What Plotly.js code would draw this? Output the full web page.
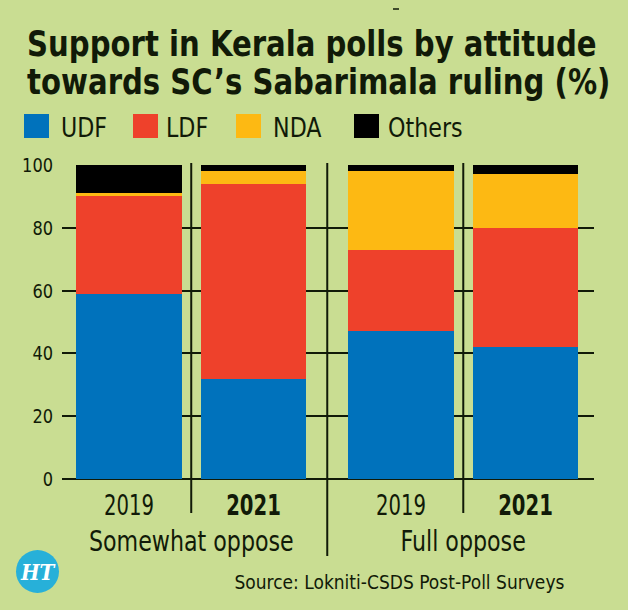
<!DOCTYPE html>
<html>
<head>
<meta charset="utf-8">
<script src="https://cdn.plot.ly/plotly-3.0.1.min.js"></script>
<style>
  html, body { margin: 0; padding: 0; background: #c9dd92; }
  #chart { width: 628px; height: 610px; }
</style>
</head>
<body>
<div id="chart"></div>
<script>
// Vote share (%) among respondents, by attitude towards the Sabarimala ruling
const groups = ['Somewhat oppose', 'Full oppose'];
const years = ['2019', '2021'];
const parties = ['UDF', 'LDF', 'NDA', 'Others'];
const udf    = [59, 32, 47, 42];
const ldf    = [31, 62, 26, 38];
const nda    = [1, 4, 25, 17];
const others = [9, 2, 2, 3];
const yTicks = [0, 20, 40, 60, 80, 100];

const partyColors = ['#0072bc', '#ee412b', '#fdb913', '#000000'];
const seriesList = [udf, ldf, nda, others];

const BG = '#c9dd92';
const INK = '#111a08';
const FONT = '"DejaVu Sans Condensed", "Liberation Sans Narrow", sans-serif';

// x position of each bar: years side by side, a wider gap between groups
const GROUP_STEP = 2.185;
const xPos = [];
const xText = [];
groups.forEach((g, gi) => {
  years.forEach((yr, yi) => {
    xPos.push(gi * GROUP_STEP + yi);
    xText.push(yi === 1 ? '<b>' + yr + '</b>' : yr);
  });
});

const traces = seriesList.map((vals, i) => ({
  type: 'bar',
  name: parties[i],
  x: xPos,
  y: vals,
  width: 0.85,
  marker: { color: partyColors[i], line: { width: 0 } },
  hoverinfo: 'name+y',
  showlegend: false
}));

// plot area: 62..594 px wide, 165..479 px tall
const M = { l: 62, r: 34, t: 165, b: 131 };
const plotW = 628 - M.l - M.r;
const plotH = 610 - M.t - M.b;
const py = (px) => (610 - M.b - px) / plotH;   // pixel row -> paper y
const pxX = (px) => (px - M.l) / plotW;         // pixel col -> paper x

const shapes = [];
const annotations = [];
// horizontal squeeze applied to each annotation's text: [factor, pivot]
const annSqueeze = [];
function addAnn(a, squeeze, pivot) {
  annotations.push(a);
  annSqueeze.push([squeeze, pivot]);
}

// vertical separators between years and between groups
const sepYear = [0.5, GROUP_STEP + 0.5];
sepYear.forEach(x => shapes.push({
  type: 'line', xref: 'x', yref: 'paper', x0: x, x1: x,
  y0: py(163), y1: py(513), line: { color: INK, width: 2 }, layer: 'above'
}));
const sepGroup = (1 + GROUP_STEP) / 2;
shapes.push({
  type: 'line', xref: 'x', yref: 'paper', x0: sepGroup, x1: sepGroup,
  y0: py(163), y1: py(556), line: { color: INK, width: 2 }, layer: 'above'
});

// group labels under the year labels
groups.forEach((g, gi) => {
  addAnn({
    text: g, xref: 'x', yref: 'paper',
    x: gi * GROUP_STEP + 0.5, y: py(541),
    xanchor: 'center', yanchor: 'middle', showarrow: false,
    font: { family: FONT, size: 28, color: INK }
  }, 0.88, 'center');
});

// title, two lines
const titleLines = ['Support in Kerala polls by attitude', 'towards SC’s Sabarimala ruling (%)'];
const titleY = [44, 82];
titleLines.forEach((t, i) => addAnn({
  text: '<b>' + t + '</b>', xref: 'paper', yref: 'paper',
  x: pxX(25), y: py(titleY[i]), xanchor: 'left', yanchor: 'middle',
  showarrow: false, font: { family: FONT, size: 36, color: INK }
}, 0.9, 'left'));

// legend: swatches and labels
const legendSwatchX = [24, 133, 236, 354];
const legendTextX = [59, 164, 271, 386];
parties.forEach((p, i) => {
  shapes.push({
    type: 'rect', xref: 'paper', yref: 'paper',
    x0: pxX(legendSwatchX[i]), x1: pxX(legendSwatchX[i] + 25),
    y0: py(114), y1: py(138), fillcolor: partyColors[i], line: { width: 0 }
  });
  addAnn({
    text: p, xref: 'paper', yref: 'paper',
    x: pxX(legendTextX[i]), y: py(128), xanchor: 'left', yanchor: 'middle',
    showarrow: false, font: { family: FONT, size: 26, color: INK }
  }, 0.95, 'left');
});

// source line
addAnn({
  text: 'Source: Lokniti-CSDS Post-Poll Surveys', xref: 'paper', yref: 'paper',
  x: pxX(566), y: py(582), xanchor: 'right', yanchor: 'middle',
  showarrow: false, font: { family: FONT, size: 20, color: INK }
}, 0.95, 'right');

// publisher badge
shapes.push({
  type: 'circle', xref: 'paper', yref: 'paper',
  x0: pxX(16), x1: pxX(59), y0: py(550), y1: py(593),
  fillcolor: '#27b0d9', line: { width: 0 }
});
addAnn({
  text: '<b><i>HT</i></b>', xref: 'paper', yref: 'paper',
  x: pxX(37.5), y: py(571.5), xanchor: 'center', yanchor: 'middle',
  showarrow: false, font: { family: '"DejaVu Serif", "Liberation Serif", serif', size: 22, color: '#ffffff' }
}, 0.9, 'center');

// small dash at the top edge
shapes.push({
  type: 'line', xref: 'paper', yref: 'paper',
  x0: pxX(393), x1: pxX(399), y0: py(9), y1: py(9),
  line: { color: INK, width: 1.5 }
});

const layout = {
  width: 628,
  height: 610,
  paper_bgcolor: BG,
  plot_bgcolor: BG,
  margin: { l: M.l, r: M.r, t: M.t, b: M.b, pad: 0 },
  barmode: 'stack',
  bargap: 0,
  showlegend: false,
  font: { family: FONT, color: INK },
  xaxis: {
    range: [-0.538, 3.735],
    tickmode: 'array',
    tickvals: xPos,
    ticktext: xText,
    ticks: 'outside', ticklen: 1, tickcolor: 'rgba(0,0,0,0)',
    tickfont: { family: FONT, size: 28, color: INK },
    showgrid: false, zeroline: false, showline: false,
    fixedrange: true
  },
  yaxis: {
    range: [0, 100],
    tickmode: 'array',
    tickvals: yTicks,
    ticks: 'outside', ticklen: 4, tickcolor: 'rgba(0,0,0,0)',
    tickfont: { family: FONT, size: 20, color: INK },
    showgrid: true, gridcolor: INK, gridwidth: 2,
    zeroline: true, zerolinecolor: INK, zerolinewidth: 2,
    showline: false,
    fixedrange: true
  },
  shapes: shapes,
  annotations: annotations
};

// narrow a text element horizontally about its left, centre or right edge
function squeeze(el, factor, pivot) {
  if (!el || factor === 1) return;
  const b = el.getBBox();
  const cx = pivot === 'left' ? b.x : pivot === 'right' ? b.x + b.width : b.x + b.width / 2;
  const old = el.getAttribute('transform') || '';
  el.setAttribute('transform',
    (old + ' translate(' + cx + ',0) scale(' + factor + ',1) translate(' + (-cx) + ',0)').trim());
}

Plotly.newPlot('chart', traces, layout, { displayModeBar: false, staticPlot: true }).then(gd => {
  gd.querySelectorAll('.xtick text').forEach(t => squeeze(t, 0.78, 'center'));
  gd.querySelectorAll('.ytick text').forEach(t => squeeze(t, 0.9, 'right'));
  annSqueeze.forEach(([f, p], i) => {
    const t = gd.querySelector('.annotation[data-index="' + i + '"] text.annotation-text');
    squeeze(t, f, p);
  });
});
</script>
</body>
</html>
